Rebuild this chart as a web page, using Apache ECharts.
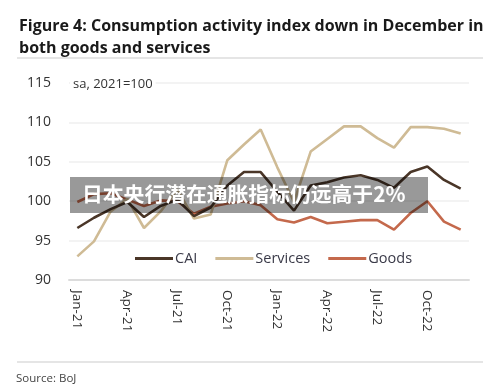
<!DOCTYPE html>
<html>
<head>
<meta charset="utf-8">
<script src="https://cdn.jsdelivr.net/npm/echarts@6/dist/echarts.min.js"></script>
<style>html,body{margin:0;padding:0;background:#fff;}#c{width:500px;height:392px;}</style>
</head>
<body>
<div id="c"></div>
<script>
const categories = ['Jan-21','Feb-21','Mar-21','Apr-21','May-21','Jun-21','Jul-21','Aug-21','Sep-21','Oct-21','Nov-21','Dec-21',
  'Jan-22','Feb-22','Mar-22','Apr-22','May-22','Jun-22','Jul-22','Aug-22','Sep-22','Oct-22','Nov-22','Dec-22'];
const cai      = [96.6, 97.9, 99.0, 99.9, 98.0, 99.4, 100.2, 98.1, 99.2, 102.0, 103.7, 103.7, 101.2, 98.8, 102.0, 102.4, 103.0, 103.3, 102.7, 101.7, 103.7, 104.4, 102.7, 101.6];
const services = [93.0, 94.9, 98.7, 100.3, 96.6, 98.7, 101.5, 97.8, 98.3, 105.2, 107.2, 109.1, 104.3, 99.9, 106.3, 107.9, 109.5, 109.5, 108.0, 106.8, 109.4, 109.4, 109.2, 108.6];
const goods    = [99.9, 100.9, 101.0, 100.2, 99.4, 100.1, 100.0, 98.4, 99.3, 99.7, 100.0, 99.5, 97.7, 97.3, 98.0, 97.2, 97.4, 97.6, 97.6, 96.4, 98.5, 100.0, 97.4, 96.4];
const yTicks = [90, 95, 100, 105, 110, 115];

const chart = echarts.init(document.getElementById('c'), null, {renderer: 'canvas'});
const FONT = "'Open Sans', 'Noto Sans', sans-serif";
const mk = (name, data, color) => ({
  name, type: 'line', data, symbol: 'none', smooth: false,
  lineStyle: {color, width: 2.6}, itemStyle: {color}, z: 2, animation: false
});
chart.setOption({
  animation: false,
  title: {
    text: 'Figure 4: Consumption activity index down in December in\nboth goods and services',
    left: 14, top: 10,
    textStyle: {fontFamily: FONT, fontWeight: 'bold', fontSize: 16, lineHeight: 22, color: '#1a1a1a'}
  },
  grid: {left: 69, right: 31, top: 83, bottom: 112, containLabel: false},
  xAxis: {
    type: 'category', data: categories, boundaryGap: true,
    axisLine: {show: true, lineStyle: {color: '#dcdcdc', width: 2}},
    axisTick: {show: false},
    axisLabel: {interval: 2, rotate: -90, margin: 10, fontFamily: FONT, fontSize: 13.5, color: '#333'},
    splitLine: {show: false}
  },
  yAxis: {
    type: 'value', min: yTicks[0], max: yTicks[yTicks.length - 1], interval: 5,
    axisLine: {show: false}, axisTick: {show: false},
    axisLabel: {margin: 18, fontFamily: FONT, fontSize: 14, color: '#333'},
    splitLine: {lineStyle: {color: '#efefef', width: 1.5}}
  },
  legend: {
    left: 130, top: 246, itemWidth: 38, itemHeight: 3, itemGap: 18, icon: 'rect',
    textStyle: {fontFamily: FONT, fontSize: 14.5, color: '#3a3a48', padding: [0, 0, 0, -3]},
    data: ['CAI', 'Services', 'Goods']
  },
  series: [
    mk('Goods', goods, '#c4694c'),
    mk('Services', services, '#cfbb95'),
    mk('CAI', cai, '#4a3628')
  ],
  graphic: [
    {type: 'line', shape: {x1: 17, y1: 58, x2: 483, y2: 58}, style: {stroke: '#dcdcdc', lineWidth: 1.5}},
    {type: 'line', shape: {x1: 17, y1: 362, x2: 483, y2: 362}, style: {stroke: '#dcdcdc', lineWidth: 1.5}},
    {type: 'text', x: 16, y: 379, style: {text: 'Source: BoJ', fontFamily: FONT, fontSize: 11.5, fill: '#444', verticalAlign: 'middle'}},
    {type: 'text', x: 70, y: 84, z: 50, style: {text: 'sa, 2021=100', fontFamily: FONT, fontSize: 13, fill: '#333', verticalAlign: 'middle',
      backgroundColor: '#fff', padding: [2, 3, 2, 3]}},
    {type: 'rect', shape: {x: 70, y: 177, width: 358, height: 36}, style: {fill: 'rgba(0,0,0,0.4)'}, z: 100},
    {type: 'text', x: 82, y: 194, z: 101,
      style: {text: '日本央行潜在通胀指标仍远高于2%', fontFamily: "'Noto Sans CJK SC', sans-serif", fontWeight: 'bold', fontSize: 20.8, fill: '#fff', verticalAlign: 'middle'}}
  ]
});
</script>
</body>
</html>
